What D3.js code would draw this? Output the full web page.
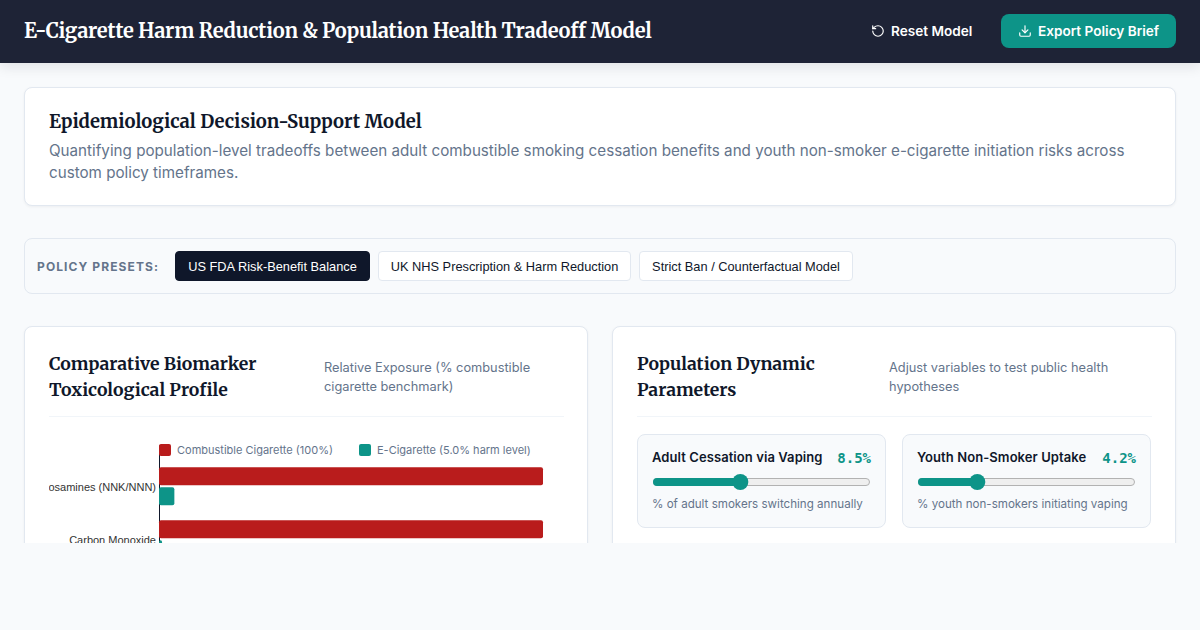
<!DOCTYPE html>
<html>
<head>
<meta charset="utf-8">
<script src="https://cdn.jsdelivr.net/npm/d3@7"></script>
<style>
* { box-sizing: border-box; }
html, body { margin: 0; height: 630px; overflow: hidden; background: #f8fafc; font-family: Inter, sans-serif; color: #0f172a; }
.serif { font-family: Merriweather, "Liberation Serif", serif; font-weight: 700; }
header { position: absolute; left: 0; top: 0; width: 1200px; height: 63px; background: #1e2336; box-shadow: 0 4px 12px rgba(15,23,42,.1); z-index: 2; }
header h1 { position: absolute; left: 24px; top: 16px; margin: 0; font-size: 20px; line-height: 30px; letter-spacing: -.2px; color: #fff; white-space: nowrap; }
.reset { position: absolute; left: 871px; top: 22px; color: #fff; font-size: 13.6px; font-weight: 600; line-height: 18px; padding-left: 20px; }
.export { position: absolute; left: 1001px; top: 14px; width: 175px; height: 34px; background: #0d9488; border-radius: 8px; color: #fff; font-size: 13.6px; font-weight: 600; line-height: 34px; padding-left: 37px; }
header svg { position: absolute; fill: none; stroke: #fff; stroke-width: 2; stroke-linecap: round; stroke-linejoin: round; }
main { position: absolute; left: 0; top: 63px; width: 1200px; height: 480px; overflow: hidden; }
.card { position: absolute; background: #fff; border: 1px solid #e2e8f0; border-radius: 8px; box-shadow: 0 1px 3px rgba(15,23,42,.05); }
.intro { left: 24px; top: 24px; width: 1152px; height: 119px; }
.intro h2 { position: absolute; left: 24px; top: 20px; margin: 0; font-size: 18.4px; line-height: 27px; }
.intro p { position: absolute; left: 24px; top: 52px; margin: 0; width: 1100px; font-size: 15.2px; line-height: 22px; color: #64748b; }
.presets { position: absolute; left: 24px; top: 175px; width: 1152px; height: 56px; background: #f8fafc; border: 1px solid #e2e8f0; border-radius: 8px; }
.presets b { position: absolute; left: 12px; top: 20px; font-size: 12px; line-height: 16px; letter-spacing: 1.1px; font-weight: 700; color: #64748b; }
.btn { position: absolute; top: 12px; height: 30px; border: 1px solid #e2e8f0; background: #fff; border-radius: 4px; font: 12.8px/29px "Liberation Sans", Arial, sans-serif; text-align: center; color: #0f172a; }
.btn.on { background: #0f172a; border-color: #0f172a; color: #fff; }
.panel { top: 263px; height: 300px; }
.panel h3 { position: absolute; left: 24px; top: 24px; margin: 0; font-size: 17.6px; line-height: 26px; color: #0f172a; }
.panel .sub { position: absolute; top: 31px; font-size: 12.8px; line-height: 19px; color: #64748b; }
.panel hr { position: absolute; left: 24px; top: 89px; margin: 0; border: 0; border-top: 1px solid #f1f5f9; }
#chart { position: absolute; left: 24px; top: 106px; overflow: hidden; }
.ctrl { position: absolute; top: 107px; width: 249px; height: 94px; background: #f8fafc; border: 1px solid #e2e8f0; border-radius: 8px; }
.ctrl .name { position: absolute; left: 14px; top: 13px; font-size: 13px; line-height: 18px; font-weight: 600; letter-spacing: .08px; color: #0f172a; }
.ctrl .val { position: absolute; right: 14px; top: 13px; font: 700 14px/20px "DejaVu Sans Mono", monospace; color: #0d9488; }
.ctrl .note { position: absolute; left: 14px; top: 60px; font-size: 11.6px; line-height: 18px; color: #64748b; }
.ctrl svg { position: absolute; left: 0; top: 35px; }
</style>
</head>
<body>
<header>
  <h1 class="serif">E-Cigarette Harm Reduction &amp; Population Health Tradeoff Model</h1>
  <svg style="left:871px;top:24px" width="14" height="14" viewBox="0 0 24 24"><path d="M3 12a9 9 0 1 0 9-9 9.75 9.75 0 0 0-6.74 2.74L3 8"/><path d="M3 3v5h5"/></svg>
  <div class="reset">Reset Model</div>
  <div class="export">Export Policy Brief</div>
  <svg style="left:1018px;top:24px" width="14" height="14" viewBox="0 0 24 24"><path d="M21 15v4a2 2 0 0 1-2 2H5a2 2 0 0 1-2-2v-4"/><path d="M7 10l5 5 5-5"/><path d="M12 15V3"/></svg>
</header>
<main>
  <section class="card intro">
    <h2 class="serif">Epidemiological Decision-Support Model</h2>
    <p>Quantifying population-level tradeoffs between adult combustible smoking cessation benefits and youth non-smoker e-cigarette initiation risks across custom policy timeframes.</p>
  </section>
  <section class="presets">
    <b>POLICY PRESETS:</b>
    <div class="btn on" style="left:150px;width:195px">US FDA Risk-Benefit Balance</div>
    <div class="btn" style="left:353px;width:253px">UK NHS Prescription &amp; Harm Reduction</div>
    <div class="btn" style="left:614px;width:214px">Strict Ban / Counterfactual Model</div>
  </section>
  <section class="card panel" style="left:24px;width:564px">
    <h3 class="serif">Comparative Biomarker<br>Toxicological Profile</h3>
    <div class="sub" style="left:299px;width:240px">Relative Exposure (% combustible cigarette benchmark)</div>
    <hr style="width:515px">
    <svg id="chart" width="515" height="200"></svg>
  </section>
  <section class="card panel" style="left:612px;width:564px">
    <h3 class="serif">Population Dynamic<br>Parameters</h3>
    <div class="sub" style="left:276px;width:262px">Adjust variables to test public health hypotheses</div>
    <hr style="width:515px">
    <div class="ctrl" style="left:24px" id="ctrl0"></div>
    <div class="ctrl" style="left:289px" id="ctrl1"></div>
  </section>
</main>
<script>
// chart values
var biomarkers = ["Tobacco-Specific Nitrosamines (NNK/NNN)", "Carbon Monoxide"]
var combustible = [100, 100]
var ecig = [4, 0.8]
var legendLabels = ["Combustible Cigarette (100%)", "E-Cigarette (5.0% harm level)"]
var legendColors = ["#b91c1c", "#0d9488"]

var sliderNames = ["Adult Cessation via Vaping", "Youth Non-Smoker Uptake"]
var sliderNotes = ["% of adult smokers switching annually", "% youth non-smokers initiating vaping"]
var sliderValues = [8.5, 4.2]
var sliderMin = [1, 0.5]
var sliderMax = [20, 15]

function drawChart() {
    var left = 110
    var svg = d3.select("#chart")
    var xScale = d3.scaleLinear().domain([0, 100]).range([left, left + 384])
    var yScale = d3.scaleBand().domain(biomarkers).range([12, 147.5]).paddingInner(0.283).paddingOuter(0.42)
    var barH = 18

    // y axis, bars go on top of it
    var axis = svg.append("g")
        .attr("transform", "translate(" + left + ",0)")
        .call(d3.axisLeft(yScale).tickSize(0).tickPadding(3))
    axis.select(".domain").attr("stroke", "#0f172a")
    axis.selectAll("text")
        .style("font-family", "Liberation Sans, Arial, sans-serif")
        .style("font-size", "11px")
        .attr("dy", "0.42em")
        .attr("fill", "#333")

    svg.selectAll("rect.comb")
        .data(biomarkers)
        .enter()
        .append("rect")
        .attr("class", "comb")
        .attr("x", xScale(0))
        .attr("y", d => yScale(d))
        .attr("width", (d, i) => xScale(combustible[i]) - xScale(0))
        .attr("height", barH)
        .attr("rx", 2)
        .attr("fill", legendColors[0])
    svg.selectAll("rect.ecig")
        .data(biomarkers)
        .enter()
        .append("rect")
        .attr("class", "ecig")
        .attr("x", xScale(0))
        .attr("y", d => yScale(d) + barH + 2)
        .attr("width", (d, i) => xScale(ecig[i]) - xScale(0))
        .attr("height", barH)
        .attr("rx", 2)
        .attr("fill", legendColors[1])

    // legend
    var legendX = [110, 310]
    var legend = svg.selectAll("g.legend")
        .data(legendLabels)
        .enter()
        .append("g")
        .attr("class", "legend")
        .attr("transform", (d, i) => "translate(" + legendX[i] + ",11)")
    legend.append("rect").attr("width", 12).attr("height", 12).attr("rx", 2).attr("fill", (d, i) => legendColors[i])
    legend.append("text").attr("x", 18).attr("y", 10).style("font-size", "11px").attr("fill", "#64748b").text(d => d)
}

function drawSlider(i) {
    var box = d3.select("#ctrl" + i)
    box.append("div").attr("class", "name").text(sliderNames[i])
    box.append("div").attr("class", "val").text(sliderValues[i].toFixed(1) + "%")
    box.append("div").attr("class", "note").text(sliderNotes[i])
    var xScale = d3.scaleLinear().domain([sliderMin[i], sliderMax[i]]).range([23, 224])
    var svg = box.append("svg").attr("width", 247).attr("height", 24)
    svg.append("rect").attr("x", 15.5).attr("y", 8.5).attr("width", 216).attr("height", 7).attr("rx", 3.5)
        .attr("fill", "#efefef").attr("stroke", "#b2b2b2")
    svg.append("rect").attr("x", 15).attr("y", 8).attr("width", xScale(sliderValues[i]) - 15).attr("height", 8).attr("rx", 4)
        .attr("fill", "#0d9488")
    svg.append("circle").attr("cx", xScale(sliderValues[i])).attr("cy", 12).attr("r", 8).attr("fill", "#0d9488")
}

drawChart()
sliderNames.forEach((n, i) => drawSlider(i))
</script>
</body>
</html>
